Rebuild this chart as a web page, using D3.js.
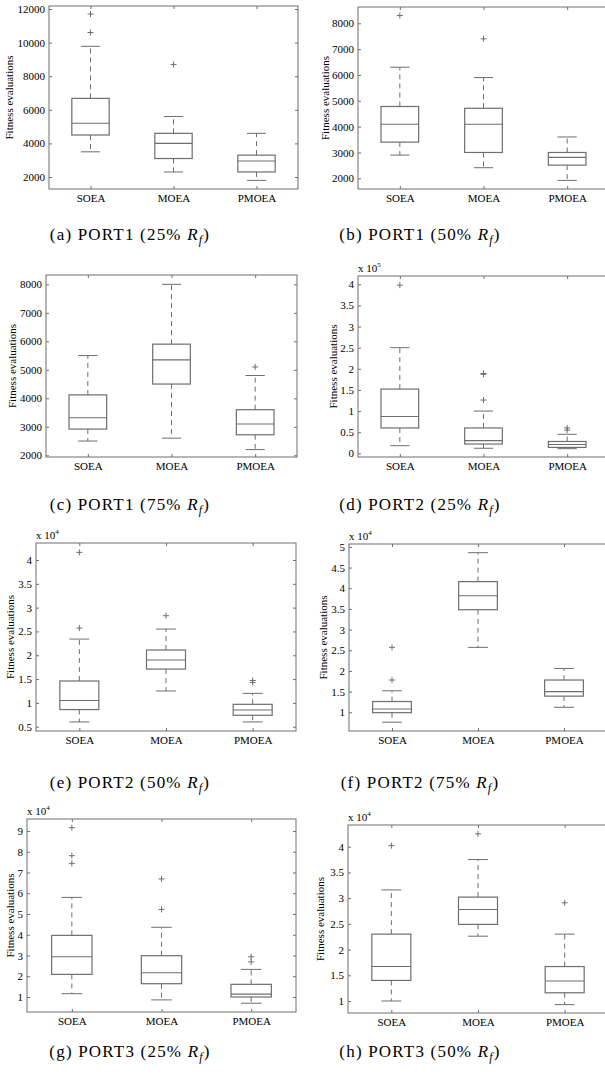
<!DOCTYPE html>
<html>
<head>
    <title>Fitness evaluations box plots</title>
    <script src="https://d3js.org/d3.v7.min.js"></script>
    <style>
        body { margin: 0; background: #fff; }
        text { font-family: "Liberation Serif", "Times New Roman", serif; }
    </style>
</head>
<body>
    <svg width="605" height="1075"></svg>
    <script>
        // Categories and captions
        const categories = ["SOEA", "MOEA", "PMOEA"];
        const captionIds = ["a", "b", "c", "d", "e", "f", "g", "h"];
        const captionPorts = ["PORT1", "PORT1", "PORT1", "PORT2", "PORT2", "PORT2", "PORT3", "PORT3"];
        const captionPcts = ["25%", "50%", "75%", "25%", "50%", "75%", "25%", "50%"];

        // Axis: power-of-ten multiplier, limits and tick labels
        const exponents = [0, 0, 0, 5, 4, 4, 4, 4];
        const yLimits = [
          [1286, 12179], [1586, 8631], [1940, 8327], [-0.087, 4.196],
          [0.41, 4.357], [0.547, 5.07], [0.277, 9.578], [0.767, 4.422]
        ];
        const yTicks = [
          [2000, 4000, 6000, 8000, 10000, 12000],
          [2000, 3000, 4000, 5000, 6000, 7000, 8000],
          [2000, 3000, 4000, 5000, 6000, 7000, 8000],
          [0, 0.5, 1, 1.5, 2, 2.5, 3, 3.5, 4],
          [0.5, 1, 1.5, 2, 2.5, 3, 3.5, 4],
          [1, 1.5, 2, 2.5, 3, 3.5, 4, 4.5, 5],
          [1, 2, 3, 4, 5, 6, 7, 8, 9],
          [1, 1.5, 2, 2.5, 3, 3.5, 4]
        ];

        // Box stats per category: [lower whisker, Q1, median, Q3, upper whisker]
        const statsA = [[3500, 4500, 5200, 6680, 9780], [2300, 3100, 4000, 4600, 5600], [1800, 2300, 2950, 3300, 4600]];
        const statsB = [[2900, 3400, 4090, 4780, 6300], [2410, 3000, 4090, 4710, 5900], [1920, 2510, 2810, 3000, 3600]];
        const statsC = [[2500, 2920, 3320, 4120, 5500], [2600, 4500, 5350, 5900, 8000], [2200, 2720, 3100, 3600, 4800]];
        const statsD = [[0.18, 0.6, 0.87, 1.52, 2.5], [0.12, 0.22, 0.3, 0.6, 1.0], [0.11, 0.14, 0.21, 0.28, 0.45]];
        const statsE = [[0.6, 0.86, 1.05, 1.46, 2.34], [1.25, 1.71, 1.9, 2.11, 2.55], [0.6, 0.74, 0.85, 0.97, 1.2]];
        const statsF = [[0.76, 0.99, 1.08, 1.26, 1.52], [2.57, 3.48, 3.82, 4.16, 4.86], [1.12, 1.39, 1.5, 1.78, 2.06]];
        const statsG = [[1.16, 2.09, 2.94, 3.97, 5.8], [0.86, 1.64, 2.17, 2.99, 4.36], [0.7, 1.0, 1.14, 1.61, 2.33]];
        const statsH = [[1.0, 1.4, 1.67, 2.3, 3.16], [2.26, 2.49, 2.78, 3.02, 3.75], [0.93, 1.16, 1.39, 1.67, 2.3]];

        // Outliers per category
        const outliersA = [[10600, 11700], [8700], []];
        const outliersB = [[8300], [7400], []];
        const outliersC = [[], [], [5100]];
        const outliersD = [[3.98], [1.26, 1.87, 1.89], [0.55, 0.6]];
        const outliersE = [[2.57, 4.16], [2.83], [1.43, 1.47]];
        const outliersF = [[1.78, 2.57], [], []];
        const outliersG = [[7.44, 7.81, 9.16], [5.22, 6.69], [2.69, 2.94]];
        const outliersH = [[4.02], [4.25], [2.91]];

        const allStats = [statsA, statsB, statsC, statsD, statsE, statsF, statsG, statsH];
        const allOutliers = [outliersA, outliersB, outliersC, outliersD, outliersE, outliersF, outliersG, outliersH];

        // Panel frames (layout)
        const frames = [
          {x: 49, y: 6, w: 249, h: 183, lab: 9},
          {x: 358, y: 7, w: 251, h: 182, lab: 325},
          {x: 46, y: 275, w: 251, h: 182, lab: 12},
          {x: 358, y: 276, w: 251, h: 181, lab: 333},
          {x: 36, y: 543, w: 260, h: 188, lab: 10},
          {x: 349, y: 544, w: 258, h: 187, lab: 323},
          {x: 27, y: 819, w: 269, h: 193, lab: 10},
          {x: 348, y: 825, w: 260, h: 188, lab: 320}
        ];
        const captionY = [240, 240, 510, 510, 788, 788, 1057, 1057];
        const captionX = [130, 420];

        const lineColor = "#6e6e6e";
        const svg = d3.select("svg");

        frames.forEach((f, i) => {
            const g = svg.append("g");
            const x = d3.scaleLinear().domain([0.5, 3.5]).range([f.x, f.x + f.w]);
            const y = d3.scaleLinear().domain(yLimits[i]).range([f.y + f.h, f.y]);
            const boxW = x(1.225) - x(1);
            const capW = x(1.115) - x(1);

            // Axes with inward ticks
            const axes = [];
            axes.push(g.append("g")
                .attr("transform", `translate(${f.x},0)`)
                .call(d3.axisLeft(y).tickValues(yTicks[i]).tickFormat(d => String(d))
                    .tickSizeInner(-3).tickSizeOuter(0).tickPadding(4)));
            // right column panels are cut off by the page edge
            if (i % 2 === 0) {
                axes.push(g.append("g")
                    .attr("transform", `translate(${f.x + f.w},0)`)
                    .call(d3.axisRight(y).tickValues(yTicks[i]).tickFormat("")
                        .tickSizeInner(-3).tickSizeOuter(0)));
            }
            axes.push(g.append("g")
                .attr("transform", `translate(0,${f.y + f.h})`)
                .call(d3.axisBottom(x).tickValues([1, 2, 3]).tickFormat(d => categories[d - 1])
                    .tickSizeInner(-3).tickSizeOuter(0).tickPadding(5)));
            axes.push(g.append("g")
                .attr("transform", `translate(0,${f.y})`)
                .call(d3.axisTop(x).tickValues([1, 2, 3]).tickFormat("")
                    .tickSizeInner(-3).tickSizeOuter(0)));
            axes.forEach(a => {
                a.attr("font-family", null);
                a.select(".domain").remove();
                a.selectAll(".tick line").attr("stroke", lineColor);
                a.selectAll("text").attr("fill", "#000").style("font-size", "11px");
            });

            // Frame
            g.append("rect")
                .attr("x", f.x).attr("y", f.y)
                .attr("width", f.w).attr("height", f.h)
                .attr("fill", "none").attr("stroke", lineColor).attr("stroke-width", 1);

            // Y label
            g.append("text")
                .attr("transform", `translate(${f.lab},${f.y + f.h / 2}) rotate(-90)`)
                .attr("text-anchor", "middle")
                .attr("dy", "0.35em")
                .style("font-size", "11px")
                .text("Fitness evaluations");

            // Multiplier
            if (exponents[i] > 0) {
                const t = g.append("text")
                    .attr("x", f.x).attr("y", f.y - 4)
                    .style("font-size", "11px");
                t.append("tspan").text("x 10");
                t.append("tspan").attr("dy", -5).style("font-size", "7px").text(exponents[i]);
            }

            // Boxes
            allStats[i].forEach((s, k) => {
                const cx = x(k + 1);
                const [lo, q1, md, q3, hi] = s;
                // whiskers
                g.append("line").attr("x1", cx).attr("x2", cx)
                    .attr("y1", y(q3)).attr("y2", y(hi))
                    .attr("stroke", lineColor).attr("stroke-dasharray", "5,4");
                g.append("line").attr("x1", cx).attr("x2", cx)
                    .attr("y1", y(q1)).attr("y2", y(lo))
                    .attr("stroke", lineColor).attr("stroke-dasharray", "5,4");
                [lo, hi].forEach(v => {
                    g.append("line").attr("x1", cx - capW).attr("x2", cx + capW)
                        .attr("y1", y(v)).attr("y2", y(v))
                        .attr("stroke", lineColor);
                });
                g.append("rect")
                    .attr("x", cx - boxW).attr("y", y(q3))
                    .attr("width", boxW * 2).attr("height", y(q1) - y(q3))
                    .attr("fill", "none").attr("stroke", lineColor).attr("stroke-width", 1.2);
                g.append("line").attr("x1", cx - boxW).attr("x2", cx + boxW)
                    .attr("y1", y(md)).attr("y2", y(md))
                    .attr("stroke", lineColor).attr("stroke-width", 1.1);

                // Outliers
                allOutliers[i][k].forEach(v => {
                    const py = y(v);
                    g.append("path")
                        .attr("d", `M${cx - 3},${py}H${cx + 3}M${cx},${py - 3}V${py + 3}`)
                        .attr("stroke", lineColor).attr("stroke-width", 1);
                });
            });

            // Caption
            const c = svg.append("text")
                .attr("x", captionX[i % 2]).attr("y", captionY[i])
                .attr("text-anchor", "middle")
                .style("font-size", "17px")
                .style("letter-spacing", "1.2px");
            c.append("tspan").text(`(${captionIds[i]}) ${captionPorts[i]} (${captionPcts[i]} `);
            c.append("tspan").style("font-style", "italic").text("R");
            c.append("tspan").style("font-style", "italic").style("font-size", "12px")
                .attr("dy", 4).text("f");
            c.append("tspan").attr("dy", -4).text(")");
        });
    </script>
</body>
</html>
